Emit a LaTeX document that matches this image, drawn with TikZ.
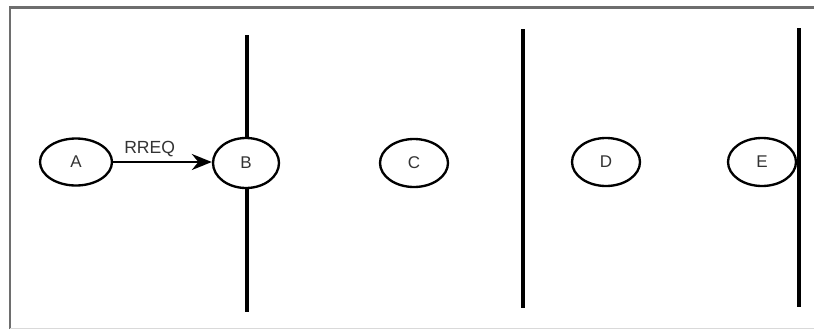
\documentclass[tikz,border=0pt]{standalone}
\usepackage{fontspec}
\setmainfont{Liberation Sans}
\usepackage{tikz}
\usetikzlibrary{shapes.geometric,arrows.meta}
\definecolor{framegray}{HTML}{6E6E6E}
\definecolor{textgray}{HTML}{333333}

\begin{document}
\begin{tikzpicture}[
  host/.style={draw,ellipse,line width=2pt,fill=white,minimum width=2.04cm,
               minimum height=1.44cm,inner sep=0pt,font=\fontsize{14.5}{16}\selectfont,
               text=textgray},
  wall/.style={line width=2.6pt},
  arr/.style={-{Stealth[length=0.6cm,width=0.48cm]},line width=2pt},
  lbl/.style={font=\fontsize{15}{16}\selectfont,text=textgray,inner sep=2pt},
  x=0.03cm, y=-0.03cm
]
\useasboundingbox (0,0) rectangle (814,329);

%% frame (left and top edges, bottom faint)
\draw[framegray,line width=1.8pt] (10,329) -- (10,7.5) -- (814,7.5);
\draw[gray!30,line width=0.8pt] (10,328) -- (814,328);

%% range limits (vertical lines)
\coordinate (wb1) at (247,35);  \coordinate (wb2) at (247,312);
\coordinate (wc1) at (523,29);  \coordinate (wc2) at (523,308);
\coordinate (wd1) at (799,28);  \coordinate (wd2) at (799,307);
\draw[wall] (wb1) -- (wb2);
\draw[wall] (wc1) -- (wc2);
\draw[wall] (wd1) -- (wd2);

%% hosts
\node[host,minimum width=2.16cm,minimum height=1.41cm] (a) at (76,162)  {A};
\node[host,minimum width=1.98cm,minimum height=1.5cm]  (b) at (246,163) {B};
\node[host] (c) at (414,163) {C};
\node[host] (d) at (606,162) {D};
\node[host] (e) at (762,162) {E};

%% A -> B
\draw[arr] (a) -- node[lbl,above,pos=0.37,yshift=1pt]{RREQ} (b.west |- a);

\end{tikzpicture}
\end{document}
